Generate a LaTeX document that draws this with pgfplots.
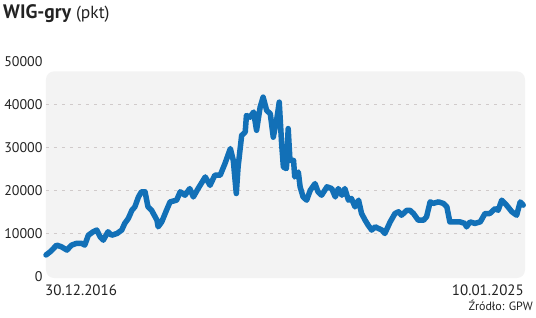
\documentclass[border=0pt]{standalone}
\usepackage{pgfplots}
\pgfplotsset{compat=1.18}
\usepackage{fontspec}
\setmainfont{PT Sans}
\definecolor{lineblue}{RGB}{18,112,183}
\definecolor{bgc}{RGB}{243,243,243}
\definecolor{gridc}{RGB}{208,202,202}
\definecolor{txt}{RGB}{34,34,34}
\begin{document}
\begin{tikzpicture}
\path[use as bounding box] (0,0) rectangle (536pt,317pt);
\begin{axis}[
 at={(46pt,39pt)}, anchor=south west,
 scale only axis, width=479pt, height=216.5pt,
 xmin=2017, xmax=2025.03, ymin=-350, ymax=50000,
 axis line style={draw=none}, tick style={draw=none},
 xtick=\empty,
 ytick={0,10000,20000,30000,40000,50000},
 scaled y ticks=false,
 /pgf/number format/1000 sep={},
 /pgf/number format/assume math mode=true,
 yticklabel style={font=\fontsize{14}{16}\selectfont, text=txt},
 clip=false,
]
\fill[bgc, rounded corners=8pt] (axis cs:2017,-350) rectangle (axis cs:2025.03,47700);
\draw[gridc, dash pattern=on 3pt off 5pt, line width=0.8pt] (axis cs:2017,10000) -- (axis cs:2025.03,10000);
\draw[gridc, dash pattern=on 3pt off 5pt, line width=0.8pt] (axis cs:2017,20000) -- (axis cs:2025.03,20000);
\draw[gridc, dash pattern=on 3pt off 5pt, line width=0.8pt] (axis cs:2017,30000) -- (axis cs:2025.03,30000);
\draw[gridc, dash pattern=on 3pt off 5pt, line width=0.8pt] (axis cs:2017,40000) -- (axis cs:2025.03,40000);
\addplot[lineblue, line width=5.5pt, line join=round, line cap=round] coordinates {
(2017.00,5000) (2017.07,5750) (2017.18,7300) (2017.26,6900) (2017.35,6150)
(2017.43,7300) (2017.51,7700) (2017.60,7700) (2017.65,7300) (2017.71,9600)
(2017.79,10400) (2017.85,10800) (2017.91,9200) (2017.96,8450) (2018.04,10400)
(2018.10,9600) (2018.19,10000) (2018.27,10800) (2018.32,12350) (2018.38,13500)
(2018.44,15400) (2018.49,16200) (2018.55,18500) (2018.60,19700) (2018.66,19700)
(2018.71,16200) (2018.77,15400) (2018.86,13100) (2018.88,11550) (2018.94,12700)
(2019.02,15400) (2019.08,17350) (2019.19,17750) (2019.25,19700) (2019.33,18900)
(2019.41,20450) (2019.47,18500) (2019.55,20450) (2019.67,23150) (2019.75,21200)
(2019.83,23550) (2019.92,23550) (2020.00,26250) (2020.09,29750) (2020.14,27000)
(2020.19,19300) (2020.22,25450) (2020.28,32800) (2020.34,33600) (2020.36,37450)
(2020.42,37050) (2020.48,38250) (2020.53,34000) (2020.59,39400) (2020.64,41700)
(2020.70,38600) (2020.76,37850) (2020.81,32400) (2020.87,36700) (2020.91,40550)
(2020.95,30900) (2020.98,25450) (2021.03,25100) (2021.06,34400) (2021.09,27000)
(2021.15,27000) (2021.17,23150) (2021.23,24300) (2021.26,20850) (2021.31,18500)
(2021.37,17750) (2021.43,20050) (2021.51,21600) (2021.56,19700) (2021.62,18900)
(2021.71,20850) (2021.79,20450) (2021.85,18500) (2021.90,20450) (2021.96,18900)
(2022.01,20450) (2022.07,17750) (2022.12,18150) (2022.18,16200) (2022.24,17750)
(2022.29,14650) (2022.35,13100) (2022.40,11950) (2022.46,10800) (2022.52,11550)
(2022.57,11200) (2022.63,10800) (2022.68,10000) (2022.77,12700) (2022.85,14650)
(2022.91,15050) (2022.96,14250) (2023.05,15400) (2023.10,15400) (2023.16,14650)
(2023.24,13100) (2023.33,13100) (2023.38,13900) (2023.44,17350) (2023.49,17000)
(2023.58,17350) (2023.66,17000) (2023.72,16200) (2023.77,12700) (2023.86,12700)
(2023.94,12700) (2024.02,12350) (2024.05,11550) (2024.11,12700) (2024.19,12350)
(2024.28,12700) (2024.36,14650) (2024.44,14650) (2024.53,15800) (2024.58,15400)
(2024.64,17750) (2024.72,16600) (2024.81,15050) (2024.89,14250) (2024.95,17350)
(2025.00,16600)
};
\end{axis}
\node[anchor=base west, inner sep=0pt, text=txt] at (3pt,299pt) {\fontsize{19.5}{22}\selectfont\bfseries WIG-gry\ \mdseries\fontsize{17.5}{20}\selectfont(pkt)};
\node[anchor=base west, inner sep=0pt, text=txt] at (45pt,22pt) {\fontsize{15}{18}\selectfont 30.12.2016};
\node[anchor=base east, inner sep=0pt, text=txt] at (524pt,22pt) {\fontsize{15}{18}\selectfont 10.01.2025};
\node[anchor=base east, inner sep=0pt, text=txt] at (533pt,7pt) {\fontsize{12}{14}\selectfont Źródło: GPW};
\end{tikzpicture}
\end{document}
